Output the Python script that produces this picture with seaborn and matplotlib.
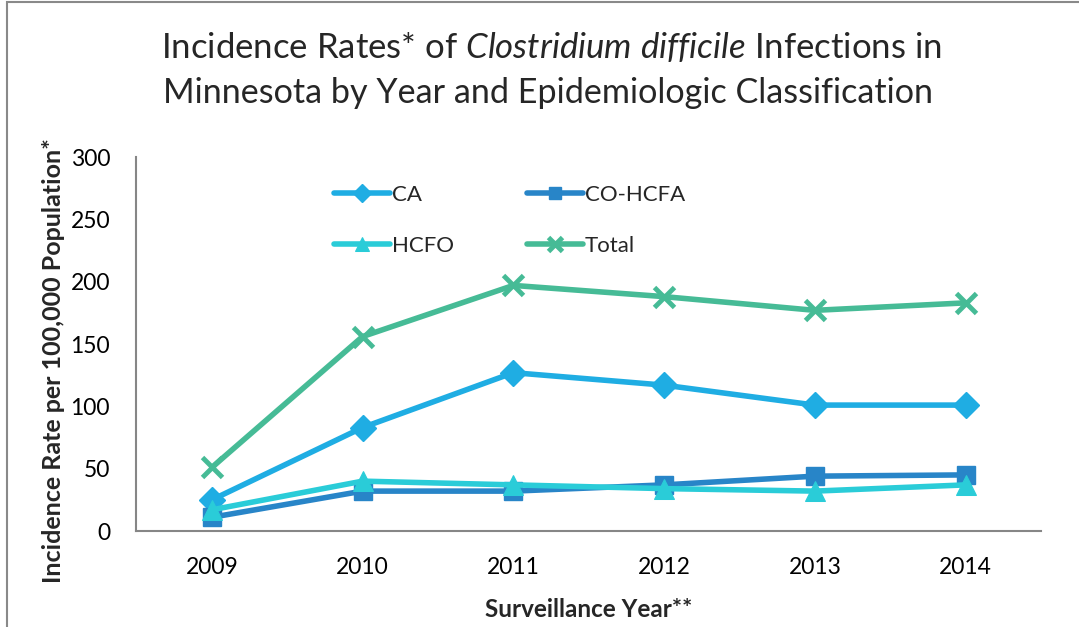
import matplotlib
matplotlib.use("Agg")
import matplotlib.pyplot as plt
import matplotlib.patches as patches
import seaborn as sns
import pandas as pd

# values
years = [2009, 2010, 2011, 2012, 2013, 2014]
groups = ["CA", "CO-HCFA", "HCFO", "Total"]
ca = [25, 83, 127, 117, 101, 101]
co_hcfa = [11, 32, 32, 37, 44, 45]
hcfo = [17, 40, 37, 34, 32, 37]
total = [51, 156, 197, 188, 177, 183]

colors = {"CA": "#1fade3", "CO-HCFA": "#2885c8", "HCFO": "#2accd8", "Total": "#46bb96"}
# seaborn won't mix filled and line markers, so Total gets "X" and is switched to "x" below
markers = {"CA": "D", "CO-HCFA": "s", "HCFO": "^", "Total": "X"}

df = pd.DataFrame({
    "Year": years * 4,
    "Rate": ca + co_hcfa + hcfo + total,
    "Group": [g for g in groups for _ in years],
})

sns.set_style("white")
plt.rcParams["font.family"] = ["Lato", "DejaVu Sans"]
plt.rcParams["mathtext.fontset"] = "custom"
plt.rcParams["mathtext.rm"] = "Lato"
plt.rcParams["mathtext.it"] = "Lato:italic"

fig = plt.figure(figsize=(10.79, 6.27), dpi=100)
ax = fig.add_axes([0.1265, 0.1531, 0.8383, 0.5965])

sns.lineplot(data=df, x="Year", y="Rate", hue="Group", style="Group",
             palette=colors, markers=markers, dashes=False, linewidth=4,
             markersize=13, legend=False, ax=ax)

for line in ax.get_lines():
    line.set_markeredgecolor(line.get_color())
    line.set_solid_capstyle("round")
    if line.get_marker() == "X":
        line.set_marker("x")
        line.set_markeredgewidth(3.5)
        line.set_markersize(15)
    elif line.get_marker() == "^":
        line.set_markersize(15)
    else:
        line.set_markeredgewidth(1)

ax.set_xlim(2008.5, 2014.5)
ax.set_ylim(0, 300)
ax.set_xticks(years)
ax.set_xticks([y + 0.5 for y in [2008] + years], minor=True)
ax.set_yticks(range(0, 301, 50))
ax.tick_params(axis="x", which="major", length=0, labelsize=16.5, pad=19, colors="black")
ax.tick_params(axis="x", which="minor", length=7, width=1.5, direction="out", color="#868686")
ax.tick_params(axis="y", length=7, width=1.5, direction="out", color="#868686",
               labelsize=16.5, pad=12, labelcolor="black")

sns.despine(ax=ax)
for side in ["left", "bottom"]:
    ax.spines[side].set_color("#868686")
    ax.spines[side].set_linewidth(1.5)

ax.set_xlabel("Surveillance Year**", fontsize=17.5, fontweight="bold", labelpad=14)
ax.set_ylabel("Incidence Rate per 100,000 Population*", fontsize=18, fontweight="bold")
ax.yaxis.set_label_coords(-0.079, 0.455)

# legend filled column by column, so reorder to get CA / CO-HCFA on the first row
lines = ax.get_lines()[:4]
order = [0, 2, 1, 3]
ax.legend([lines[i] for i in order], [groups[i] for i in order], ncol=2, frameon=False,
          fontsize=16, loc="upper left", bbox_to_anchor=(0.291, 0.737),
          bbox_transform=fig.transFigure, handlelength=2.5, handletextpad=0.1,
          columnspacing=3.3, labelspacing=1.4, markerscale=0.7)

fig.text(0.511, 1 - 58 / 627, r"Incidence Rates* of $\mathit{Clostridium\ difficile}$ Infections in",
         ha="center", va="baseline", fontsize=25)
fig.text(0.508, 1 - 103 / 627, "Minnesota by Year and Epidemiologic Classification",
         ha="center", va="baseline", fontsize=24.6)

fig.add_artist(patches.Rectangle((7 / 1079, -0.1), 1.2, 1.1 - 1.5 / 627, transform=fig.transFigure,
                                 fill=False, edgecolor="#898989", linewidth=1.5))

fig.savefig("out.png", dpi=100)
